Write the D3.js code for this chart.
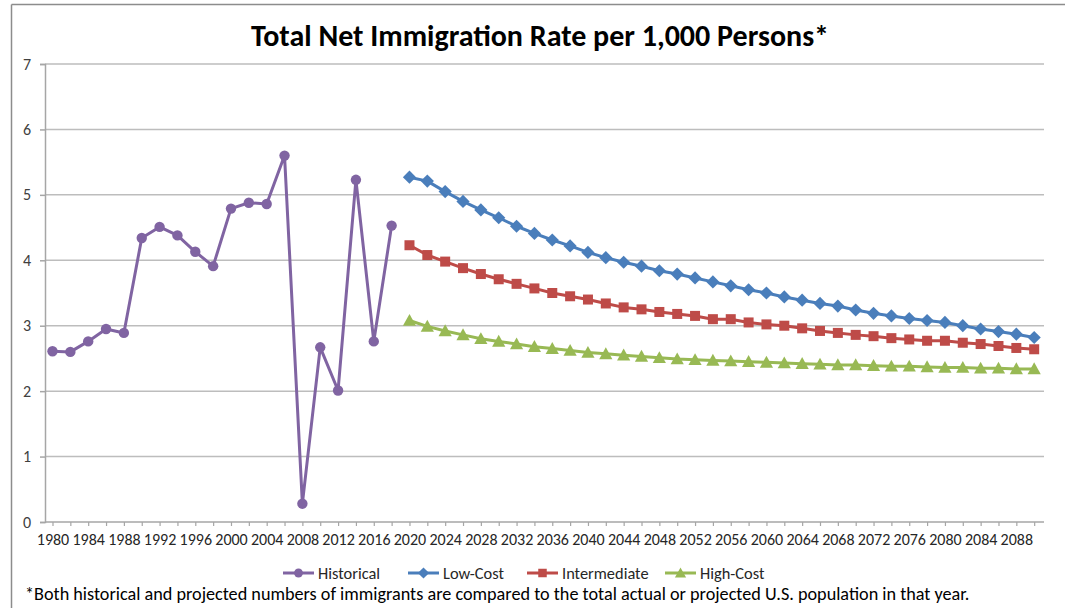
<!DOCTYPE html>
<html>
<head>
<meta charset="utf-8">
<script src="https://cdn.jsdelivr.net/npm/d3@7"></script>
<style>
  html, body { margin: 0; padding: 0; background: #fff; }
  svg { display: block; font-family: Carlito, Lato, "Open Sans", sans-serif; }
</style>
</head>
<body>
<svg id="chart" width="1065" height="608"></svg>
<script>
// ---- data ----
const titleText = "Total Net Immigration Rate per 1,000 Persons*";
const footnoteText = "*Both historical and projected numbers of immigrants are compared to the total actual or projected U.S. population in that year.";

const historicalYears = [1980,1982,1984,1986,1988,1990,1992,1994,1996,1998,2000,2002,2004,2006,2008,2010,2012,2014,2016,2018];
const historicalValues = [2.61,2.60,2.76,2.95,2.89,4.34,4.51,4.38,4.13,3.91,4.79,4.88,4.86,5.60,0.28,2.67,2.01,5.23,2.76,4.53];

const projYears = [2020,2022,2024,2026,2028,2030,2032,2034,2036,2038,2040,2042,2044,2046,2048,2050,2052,2054,2056,2058,2060,2062,2064,2066,2068,2070,2072,2074,2076,2078,2080,2082,2084,2086,2088,2090];
const lowCostValues = [5.27,5.21,5.05,4.90,4.77,4.65,4.52,4.41,4.31,4.22,4.12,4.04,3.97,3.91,3.84,3.79,3.73,3.67,3.61,3.55,3.50,3.44,3.39,3.34,3.30,3.24,3.19,3.15,3.11,3.08,3.05,3.00,2.95,2.91,2.87,2.82];
const intermediateValues = [4.23,4.08,3.98,3.88,3.79,3.71,3.64,3.57,3.50,3.45,3.40,3.34,3.28,3.25,3.21,3.18,3.15,3.10,3.10,3.05,3.02,3.00,2.96,2.92,2.89,2.86,2.84,2.81,2.79,2.77,2.77,2.74,2.72,2.69,2.66,2.64];
const highCostValues = [3.08,2.99,2.92,2.86,2.80,2.76,2.72,2.68,2.65,2.62,2.59,2.57,2.55,2.53,2.51,2.49,2.48,2.47,2.46,2.45,2.44,2.43,2.42,2.41,2.40,2.40,2.39,2.38,2.38,2.37,2.36,2.36,2.35,2.35,2.34,2.34];

const tickYears = d3.range(1980, 2091, 2);
const yTicks = [0,1,2,3,4,5,6,7];

const seriesNames = ["Historical","Low-Cost","Intermediate","High-Cost"];
const seriesColors = ["#8064A2","#4A7EBB","#BE4B48","#98B954"];
const seriesMarkers = ["circle","diamond","square","triangle"];

// ---- layout ----
const svg = d3.select("#chart");
const plot = { left: 45, right: 1044, top: 64, bottom: 522 };

const x = d3.scaleLinear().domain([1979.16, 2091.1]).range([plot.left, plot.right]);
const y = d3.scaleLinear().domain([0, 7]).range([plot.bottom, plot.top]);

// frame edges
svg.append("line").attr("x1", 11.5).attr("x2", 1065).attr("y1", 4.5).attr("y2", 4.5)
  .attr("stroke", "#8c8c8c").attr("stroke-width", 1.5);
svg.append("line").attr("x1", 11.5).attr("x2", 11.5).attr("y1", 4.5).attr("y2", 608)
  .attr("stroke", "#8c8c8c").attr("stroke-width", 1.5);

// title
svg.append("text").attr("x", 540).attr("y", 46).attr("text-anchor", "middle")
  .attr("font-size", 30).attr("font-weight", "bold").attr("fill", "#000")
  .text(titleText);

// gridlines
svg.append("g").selectAll("line").data(yTicks.filter(d => d > 0)).join("line")
  .attr("x1", plot.left).attr("x2", plot.right)
  .attr("y1", d => y(d)).attr("y2", d => y(d))
  .attr("stroke", "#BDBDBD").attr("stroke-width", 1.5);

// y axis
const yAxis = svg.append("g").attr("transform", `translate(${plot.left},0)`)
  .call(d3.axisLeft(y).tickValues(yTicks).tickSize(5).tickPadding(9).tickFormat(d3.format("d")));
yAxis.attr("font-family", null).attr("font-size", null);
yAxis.select(".domain").attr("stroke", "#A6A6A6").attr("stroke-width", 1.5);
yAxis.selectAll(".tick line").attr("stroke", "#A6A6A6").attr("stroke-width", 1.5);
yAxis.selectAll("text").attr("x", -14).attr("text-anchor", "end")
  .attr("font-size", 16).attr("fill", "#404040");

// x axis
const xAxis = svg.append("g").attr("transform", `translate(0,${plot.bottom})`)
  .call(d3.axisBottom(x).tickValues(tickYears).tickSize(4).tickPadding(8)
    .tickFormat(d => (d - 1980) % 4 === 0 && d <= 2088 ? String(d) : ""));
xAxis.attr("font-family", null).attr("font-size", null);
xAxis.select(".domain").attr("stroke", "#A6A6A6").attr("stroke-width", 1.5)
  .attr("d", `M${plot.left},0H${plot.right}`);
xAxis.selectAll(".tick line").attr("stroke", "#A6A6A6").attr("stroke-width", 1.2);
xAxis.selectAll("text").attr("font-size", 16).attr("fill", "#262626");

// marker helper
function marker(sel, type, color, size) {
  if (type === "circle") {
    sel.append("circle").attr("r", size * 0.52).attr("fill", color);
  } else if (type === "diamond") {
    const s = size * 0.6;
    sel.append("path").attr("d", `M0,${-s}L${s},0L0,${s}L${-s},0Z`).attr("fill", color);
  } else if (type === "square") {
    const s = size * 0.5;
    sel.append("rect").attr("x", -s).attr("y", -s).attr("width", 2 * s).attr("height", 2 * s).attr("fill", color);
  } else if (type === "triangle") {
    const s = size * 0.6;
    sel.append("path").attr("d", `M0,${-s}L${s},${s * 0.8}L${-s},${s * 0.8}Z`).attr("fill", color);
  }
}

const seriesData = [
  historicalYears.map((yr, i) => [yr, historicalValues[i]]),
  projYears.map((yr, i) => [yr, lowCostValues[i]]),
  projYears.map((yr, i) => [yr, intermediateValues[i]]),
  projYears.map((yr, i) => [yr, highCostValues[i]])
];
const markerSizes = [10, 11, 10, 11];

const line = d3.line().x(d => x(d[0])).y(d => y(d[1]));

seriesData.forEach((data, k) => {
  const g = svg.append("g");
  g.append("path").datum(data).attr("d", line).attr("fill", "none")
    .attr("stroke", seriesColors[k]).attr("stroke-width", 3).attr("stroke-linejoin", "round");
  g.selectAll("g.m").data(data).join("g").attr("class", "m")
    .attr("transform", d => `translate(${x(d[0])},${y(d[1])})`)
    .each(function () { marker(d3.select(this), seriesMarkers[k], seriesColors[k], markerSizes[k]); });
});

// legend
const legendX = [283, 408, 527, 665];
const legend = svg.append("g").attr("transform", "translate(0,573)");
seriesNames.forEach((name, k) => {
  const g = legend.append("g").attr("transform", `translate(${legendX[k]},0)`);
  g.append("line").attr("x1", 0).attr("x2", 31).attr("y1", 0).attr("y2", 0)
    .attr("stroke", seriesColors[k]).attr("stroke-width", 3);
  const m = g.append("g").attr("transform", "translate(15.5,0)");
  marker(m, seriesMarkers[k], seriesColors[k], markerSizes[k] * 0.85);
  g.append("text").attr("x", 35).attr("y", 5.5).attr("font-size", 16.4).attr("fill", "#262626").text(name);
});

// footnote
svg.append("text").attr("x", 25).attr("y", 600).attr("font-size", 18.2).attr("fill", "#000")
  .text(footnoteText);
</script>
</body>
</html>
